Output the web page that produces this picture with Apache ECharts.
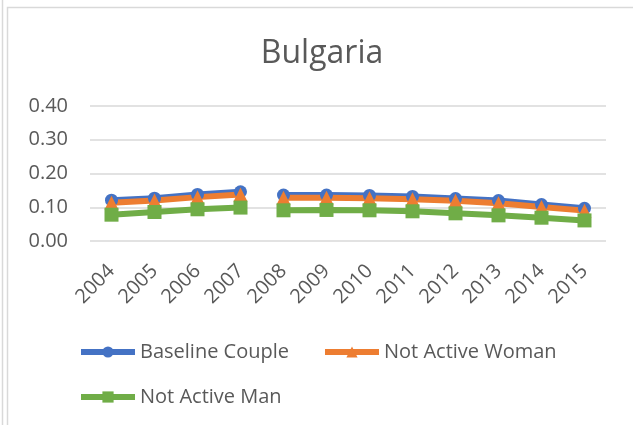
<!DOCTYPE html>
<html>
<head>
    <meta charset="utf-8" />
    <title>Bulgaria</title>
    <script src="https://cdn.jsdelivr.net/npm/echarts@6/dist/echarts.min.js"></script>
    <style>
        html, body { margin: 0; padding: 0; background: #fff; }
        #container { width: 633px; height: 425px; }
    </style>
</head>
<body>
    <div id="container"></div>
<script>
    // years + values
    var years = ["2004", "2005", "2006", "2007", "2008", "2009", "2010", "2011", "2012", "2013", "2014", "2015"];
    var baselineCouple = [0.121, 0.127, 0.138, 0.146, 0.136, 0.136, 0.135, 0.132, 0.126, 0.120, 0.108, 0.097];
    var notActiveWoman = [0.113, 0.120, 0.130, 0.138, 0.128, 0.128, 0.127, 0.124, 0.119, 0.112, 0.101, 0.090];
    var notActiveMan   = [0.078, 0.086, 0.094, 0.099, 0.091, 0.092, 0.091, 0.088, 0.082, 0.076, 0.069, 0.061];
    var yTicks = [0, 0.1, 0.2, 0.3, 0.4];
    var breakAfter = 3; // line is broken between 2007 and 2008

    var textColor = "#595959";
    var gridColor = "#d9d9d9";

    // split one row in two pieces so the line shows the gap
    function piece(arr, first) {
        return arr.map(function (v, i) {
            if (first) return i <= breakAfter ? v : null;
            return i > breakAfter ? v : null;
        });
    }

    function makeSeries(name, arr, color, symbol, size) {
        var out = [];
        [true, false].forEach(function (first) {
            out.push({
                name: name,
                type: "line",
                data: piece(arr, first),
                connectNulls: false,
                symbol: symbol,
                symbolSize: size,
                showAllSymbol: true,
                lineStyle: { color: color, width: 6 },
                itemStyle: { color: color },
                emphasis: { disabled: true }
            });
        });
        return out;
    }

    var series = []
        .concat(makeSeries("Baseline Couple", baselineCouple, "#4472C4", "circle", 13))
        .concat(makeSeries("Not Active Woman", notActiveWoman, "#ED7D31", "triangle", 14))
        .concat(makeSeries("Not Active Man", notActiveMan, "#70AD47", "rect", 14));

    var legendText = { color: textColor, fontSize: 20, fontFamily: "Open Sans" };

    var myChart = echarts.init(document.getElementById("container"), null, { renderer: "canvas" });
    myChart.setOption({
        animation: false,
        backgroundColor: "#fff",
        title: {
            text: "Bulgaria",
            left: 317,
            textAlign: "center",
            top: 33,
            textStyle: { color: textColor, fontSize: 32, fontWeight: "normal", fontFamily: "Open Sans" }
        },
        graphic: [
            { type: "line", shape: { x1: 2.5, y1: 0, x2: 2.5, y2: 425 }, style: { stroke: gridColor, lineWidth: 1.5 } },
            { type: "rect", shape: { x: 7.5, y: 7.5, width: 700, height: 600 }, style: { fill: null, stroke: gridColor, lineWidth: 1.5 } }
        ],
        legend: [
            {
                data: ["Baseline Couple", "Not Active Woman"],
                left: 78, top: 342, padding: 0,
                itemWidth: 54, itemHeight: 14, itemGap: 33,
                lineStyle: { width: 6 },
                textStyle: legendText
            },
            {
                data: ["Not Active Man"],
                left: 78, top: 387, padding: 0,
                itemWidth: 54, itemHeight: 14,
                lineStyle: { width: 6 },
                textStyle: legendText
            }
        ],
        grid: { left: 90, right: 27, top: 106, bottom: 184 },
        xAxis: {
            type: "category",
            data: years,
            boundaryGap: true,
            axisLine: { show: false },
            axisTick: { show: false },
            axisLabel: { rotate: 45, margin: 27, color: textColor, fontSize: 20, fontFamily: "Open Sans", interval: 0 }
        },
        yAxis: {
            type: "value",
            min: yTicks[0],
            max: yTicks[yTicks.length - 1],
            interval: 0.1,
            axisLine: { show: false },
            axisTick: { show: false },
            splitLine: { lineStyle: { color: gridColor, width: 1.5 } },
            axisLabel: {
                margin: 22, color: textColor, fontSize: 20, fontFamily: "Open Sans",
                formatter: function (v) { return v.toFixed(2); }
            }
        },
        series: series
    });
</script>
</body>
</html>
